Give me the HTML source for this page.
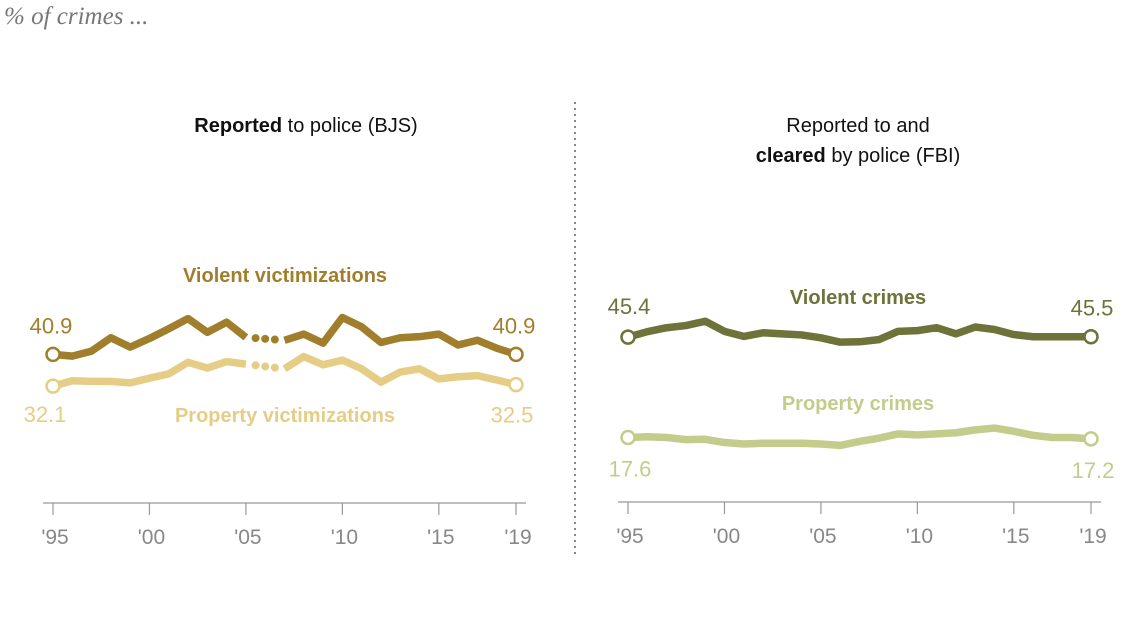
<!DOCTYPE html>
<html><head><meta charset="utf-8"><style>
body{margin:0;background:#fff;width:1128px;height:636px;overflow:hidden}
svg{display:block}
text{font-family:"Liberation Sans",sans-serif}
text.serif{font-family:"Liberation Serif",serif}
</style></head><body>
<svg id="chart" width="1128" height="636">
<text class="serif" x="4" y="24" font-style="italic" font-size="25" fill="#777">% of crimes ...</text>
<text x="306" y="132" text-anchor="middle" font-size="20" fill="#111"><tspan font-weight="bold">Reported</tspan> to police (BJS)</text>
<text x="858" y="132" text-anchor="middle" font-size="20" fill="#111">Reported to and</text>
<text x="858" y="162" text-anchor="middle" font-size="20" fill="#111"><tspan font-weight="bold">cleared</tspan> by police (FBI)</text>
<line x1="575" y1="102" x2="575" y2="555" stroke="#888" stroke-width="2" stroke-dasharray="2,4"/>
<g id="plots"></g>
</svg>
<script>
const years=[1995,1996,1997,1998,1999,2000,2001,2002,2003,2004,2005,2006,2007,2008,2009,2010,2011,2012,2013,2014,2015,2016,2017,2018,2019];
const bjsViolent=[40.9,40.4,41.8,45.5,42.9,45.3,48.0,50.8,47.0,49.8,45.6,null,44.8,46.5,44.0,51.1,48.5,44.2,45.5,45.8,46.5,43.5,44.8,42.6,40.9];
const bjsProperty=[32.1,33.6,33.4,33.4,33.0,34.3,35.5,38.7,37.1,38.9,38.2,null,36.9,40.3,38.0,39.3,36.9,33.2,36.0,36.9,34.1,34.7,35.0,33.8,32.5];
const fbiViolent=[45.4,46.9,48.0,48.6,49.8,47.0,45.6,46.6,46.3,46.0,45.2,44.0,44.1,44.7,47.0,47.2,48.0,46.3,48.2,47.5,46.1,45.5,45.5,45.5,45.5];
const fbiProperty=[17.6,17.8,17.6,17.0,17.1,16.2,15.8,16.0,16.0,16.0,15.8,15.4,16.5,17.4,18.6,18.3,18.6,18.9,19.7,20.2,19.3,18.2,17.6,17.6,17.2];
const tickYears=[1995,2000,2005,2010,2015,2019];
const tickLabels=["'95","'00","'05","'10","'15","'19"];

const NS="http://www.w3.org/2000/svg";
const root=document.getElementById('plots');
function mk(tag,attrs,parent){const e=document.createElementNS(NS,tag);for(const k in attrs)e.setAttribute(k,attrs[k]);(parent||root).appendChild(e);return e;}
function panel(x0,x1,axisY,name){
  const xs=y=>x0+(y-1995)*(x1-x0)/24;
  const ys=v=>axisY-v*3.61;
  const g=mk('g',{});
  
  
  mk('line',{x1:x0-10,x2:x1+10,y1:axisY+1,y2:axisY+1,stroke:'#999','stroke-width':1.2},g);
  tickYears.forEach((t,i)=>{
    const tk=mk('line',{x1:xs(t),x2:xs(t),y1:axisY+1,y2:axisY+13,stroke:'#999','stroke-width':1.2},g);
    
    
    const tl=mk('text',{x:xs(t)+2,y:axisY+42,'text-anchor':'middle','font-size':21,fill:'#888'},g);
    tl.textContent=tickLabels[i];
    
    
  });
  return {xs,ys};
}
function series(ax,vals,color,name){
  let d='',pen=false,gap=[];
  vals.forEach((v,i)=>{
    if(v==null){pen=false;gap.push(i);return;}
    d+=(pen?'L':'M')+ax.xs(years[i])+','+ax.ys(v);pen=true;
  });
  const p=mk('path',{d,fill:'none',stroke:color,'stroke-width':7.5,'stroke-linejoin':'round'});
  
  
  gap.forEach(i=>{
    const x1=ax.xs(years[i-1]),y1=ax.ys(vals[i-1]),x2=ax.xs(years[i+1]),y2=ax.ys(vals[i+1]);
    [0.25,0.5,0.75].forEach(f=>{
      const c=mk('circle',{cx:x1+(x2-x1)*f,cy:y1+(y2-y1)*f,r:4,fill:color});
      
      
    });
  });
  [0,vals.length-1].forEach(i=>{
    const c=mk('circle',{cx:ax.xs(years[i]),cy:ax.ys(vals[i]),r:6.5,fill:'#fff',stroke:color,'stroke-width':2.5});
    
    
  });
}
function label(x,y,txt,color,bold,name,anchor){
  const t=mk('text',{x,y,'font-size':bold?20:22,'font-weight':bold?'bold':'normal',fill:color,'text-anchor':anchor||'middle'});
  t.textContent=txt;
  
  
}
const L=panel(53,516,502,'left');
const R=panel(628,1091,501,'right');
const cV='#a07e2c',cP='#e6cd86',cFV='#6d7339',cFP='#c4cc8c';
series(L,bjsProperty,cP,'bjs-property');
series(L,bjsViolent,cV,'bjs-violent');
series(R,fbiProperty,cFP,'fbi-property');
series(R,fbiViolent,cFV,'fbi-violent');
label(285,282,'Violent victimizations',cV,true,'violent-victimizations-label');
label(285,422,'Property victimizations',cP,true,'property-victimizations-label');
label(858,304,'Violent crimes',cFV,true,'violent-crimes-label');
label(858,410,'Property crimes',cFP,true,'property-crimes-label');
label(L.xs(1995)-2,L.ys(bjsViolent[0])-21,bjsViolent[0].toFixed(1),cV,false,'bjs-violent-start-value');
label(L.xs(2019)-2,L.ys(bjsViolent[24])-21,bjsViolent[24].toFixed(1),cV,false,'bjs-violent-end-value');
label(L.xs(1995)-8,L.ys(bjsProperty[0])+36,bjsProperty[0].toFixed(1),cP,false,'bjs-property-start-value');
label(L.xs(2019)-4,L.ys(bjsProperty[24])+38,bjsProperty[24].toFixed(1),cP,false,'bjs-property-end-value');
label(R.xs(1995)+1,R.ys(fbiViolent[0])-23,fbiViolent[0].toFixed(1),cFV,false,'fbi-violent-start-value');
label(R.xs(2019)+1,R.ys(fbiViolent[24])-21,fbiViolent[24].toFixed(1),cFV,false,'fbi-violent-end-value');
label(R.xs(1995)+2,R.ys(fbiProperty[0])+39,fbiProperty[0].toFixed(1),cFP,false,'fbi-property-start-value');
label(R.xs(2019)+2,R.ys(fbiProperty[24])+39,'17.2',cFP,false,'fbi-property-end-value');
</script>
</body></html>
